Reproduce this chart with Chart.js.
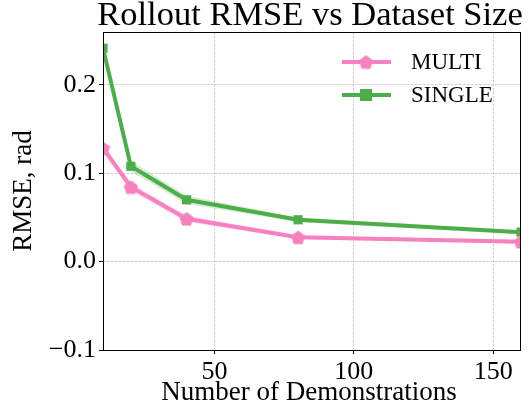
<!DOCTYPE html>
<html lang="en">
<head>
    <meta charset="UTF-8">
    <title>Rollout RMSE vs Dataset Size</title>
    <style>
        html, body { margin: 0; padding: 0; background: #fff; }
        #wrap { width: 529px; height: 409px; }
    </style>
</head>
<body>
    <div id="wrap"><canvas id="rmse-chart" width="529" height="409"></canvas></div>

    <script src="https://cdn.jsdelivr.net/npm/chart.js"></script>
    <script>
        // values
        const demos = [10, 20, 40, 80, 160];
        const multiRmse = [0.1285, 0.0845, 0.0485, 0.0276, 0.0225];
        const multiLow = [0.1240, 0.0800, 0.0450, 0.0256, 0.0206];
        const multiHigh = [0.1330, 0.0890, 0.0520, 0.0296, 0.0244];
        const singleRmse = [0.2417, 0.108, 0.0700, 0.0474, 0.0334];
        const singleLow = [0.2372, 0.1020, 0.0650, 0.0450, 0.0312];
        const singleHigh = [0.2462, 0.1140, 0.0750, 0.0498, 0.0356];
        const xTicks = [50, 100, 150];
        const yTicks = [-0.1, 0.0, 0.1, 0.2];

        const PINK = '#f781bf';
        const GREEN = '#4daf4a';
        const SERIF = '"Liberation Serif", "Times New Roman", serif';

        // matplotlib-like pentagon marker
        function pentagon(size, color) {
            const c = document.createElement('canvas');
            c.width = size; c.height = size;
            const g = c.getContext('2d');
            const r = size / 2;
            g.beginPath();
            for (let i = 0; i < 5; i++) {
                const a = -Math.PI / 2 + i * 2 * Math.PI / 5;
                const px = r + r * Math.cos(a), py = r + 0.7 + r * Math.sin(a);
                if (i === 0) g.moveTo(px, py); else g.lineTo(px, py);
            }
            g.closePath();
            g.fillStyle = color;
            g.fill();
            return c;
        }
        const pentMarker = pentagon(15, PINK);

        function pts(ys) {
            return demos.map((x, i) => ({ x: x, y: ys[i] }));
        }

        function band(ys, color) {
            return { data: pts(ys), borderWidth: 0, pointRadius: 0, backgroundColor: color, fill: false, clip: 0 };
        }

        const framePlugin = {
            id: 'frame',
            afterDatasetsDraw(chart) {
                const a = chart.chartArea, ctx = chart.ctx;
                ctx.save();
                ctx.strokeStyle = '#000';
                ctx.lineWidth = 1;
                ctx.strokeRect(a.left + 0.5, a.top + 0.5, a.right - a.left - 1, a.bottom - a.top);
                ctx.restore();
            },
            afterDraw(chart) {
                const a = chart.chartArea, ctx = chart.ctx;
                ctx.save();
                ctx.fillStyle = '#000';
                ctx.textAlign = 'center';
                ctx.textBaseline = 'alphabetic';
                ctx.font = '34.5px ' + SERIF;
                ctx.fillText('Rollout RMSE vs Dataset Size', (a.left + a.right) / 2 - 2, 25);
                ctx.font = '27px ' + SERIF;
                ctx.fillText('Number of Demonstrations', (a.left + a.right) / 2 - 3, 400);
                ctx.translate(31, (a.top + a.bottom) / 2);
                ctx.rotate(-Math.PI / 2);
                ctx.fillText('RMSE, rad', 0, 0);
                ctx.restore();

                // legend
                const items = [
                    { label: 'MULTI', color: PINK, y: 62, marker: 'pent' },
                    { label: 'SINGLE', color: GREEN, y: 95, marker: 'sq' }
                ];
                ctx.save();
                ctx.font = '23px ' + SERIF;
                ctx.textBaseline = 'middle';
                items.forEach(it => {
                    ctx.strokeStyle = it.color;
                    ctx.lineWidth = 4;
                    ctx.beginPath();
                    ctx.moveTo(342, it.y);
                    ctx.lineTo(391, it.y);
                    ctx.stroke();
                    if (it.marker === 'sq') {
                        ctx.fillStyle = it.color;
                        ctx.fillRect(360, it.y - 6, 12, 12);
                    } else {
                        ctx.drawImage(pentMarker, 366 - 7.5, it.y - 7.5);
                    }
                    ctx.fillStyle = '#000';
                    ctx.fillText(it.label, 411, it.y + 1);
                });
                ctx.restore();
            }
        };

        const grid = {
            color: 'rgba(185,185,185,0.75)',
            tickColor: '#000',
            tickBorderDash: [],
            tickLength: 4,
            drawTicks: true
        };
        const border = { display: false, dash: [2.5, 1.5] };

        new Chart(document.getElementById('rmse-chart'), {
            type: 'line',
            data: {
                datasets: [
                    band(multiLow, 'rgba(247,129,191,0.25)'),
                    Object.assign(band(multiHigh, 'rgba(247,129,191,0.25)'), { fill: '-1' }),
                    band(singleLow, 'rgba(77,175,74,0.22)'),
                    Object.assign(band(singleHigh, 'rgba(77,175,74,0.22)'), { fill: '-1' }),
                    {
                        label: 'MULTI',
                        data: pts(multiRmse),
                        borderColor: PINK,
                        backgroundColor: PINK,
                        borderWidth: 4,
                        pointStyle: pentMarker,
                        fill: false,
                        clip: 0
                    },
                    {
                        label: 'SINGLE',
                        data: pts(singleRmse),
                        borderColor: GREEN,
                        backgroundColor: GREEN,
                        borderWidth: 4,
                        pointStyle: 'rect',
                        pointRadius: 6.5,
                        pointBorderWidth: 0,
                        fill: false,
                        clip: 0
                    }
                ]
            },
            options: {
                responsive: false,
                animation: false,
                layout: { padding: { top: 32, right: 8, left: 0, bottom: 0 } },
                plugins: { legend: { display: false }, tooltip: { enabled: false } },
                scales: {
                    x: {
                        type: 'linear',
                        min: 10,
                        max: 160,
                        grid: grid,
                        border: border,
                        afterBuildTicks: s => { s.ticks = xTicks.map(v => ({ value: v })); },
                        afterFit: s => { s.height = 59; },
                        ticks: {
                            color: '#000',
                            padding: 3,
                            font: { family: SERIF, size: 26 },
                            maxRotation: 0,
                            callback: v => String(v)
                        }
                    },
                    y: {
                        type: 'linear',
                        min: -0.1,
                        max: 0.26,
                        grid: grid,
                        border: border,
                        afterBuildTicks: s => { s.ticks = yTicks.map(v => ({ value: v })); },
                        afterFit: s => { s.width = 103; },
                        ticks: {
                            color: '#000',
                            padding: 3,
                            font: { family: SERIF, size: 26 },
                            callback: v => (v < 0 ? '\u2212' : '') + Math.abs(v).toFixed(1)
                        }
                    }
                }
            },
            plugins: [framePlugin]
        });
    </script>
</body>
</html>
